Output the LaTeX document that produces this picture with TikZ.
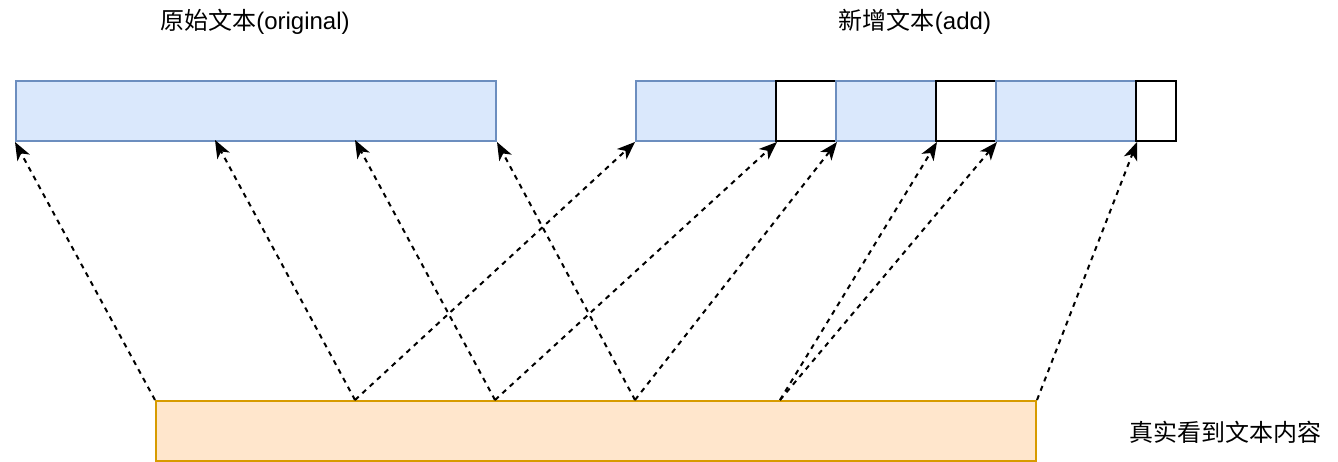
\documentclass[tikz,border=0pt]{standalone}
\usepackage{fontspec}
\setmainfont{Liberation Sans}
\newfontfamily\cjk{Noto Sans CJK SC}
\usetikzlibrary{arrows.meta,positioning}
\definecolor{blueFill}{HTML}{DAE8FC}
\definecolor{blueLine}{HTML}{6C8EBF}
\definecolor{orangeFill}{HTML}{FFE6CC}
\definecolor{orangeLine}{HTML}{D79B00}
\tikzset{
 seg/.style={draw,line width=2pt,inner sep=0,minimum height=60pt,anchor=north west},
 origseg/.style={seg,draw=blueLine,fill=blueFill},
 addseg/.style={seg,draw=blueLine,fill=blueFill},
 gapseg/.style={seg,draw=black,fill=white},
 realseg/.style={seg,draw=orangeLine,fill=orangeFill},
 maparrow/.style={line width=2pt,dash pattern=on 5pt off 5pt,-{Stealth[length=18pt,width=14pt,inset=5pt]}},
 caption/.style={font=\fontsize{24}{28}\selectfont,inner sep=0}
}
\begin{document}
\begin{tikzpicture}[x=1pt,y=-1pt]
\path[use as bounding box] (0,0) rectangle (1338,462);
\node[caption] (origlabel) at (255,22) {{\cjk 原始文本}(original)};
\node[caption] (addlabel) at (915,22) {{\cjk 新增文本}(add)};
\node[caption] (reallabel) at (1225,432) {\cjk 真实看到文本内容};
% original text
\node[origseg,minimum width=480pt] (orig) at (15,80) {};
% added text
\node[addseg,minimum width=140pt] (a1) at (635,80) {};
\node[gapseg,minimum width=60pt] (b1) at (775,80) {};
\node[addseg,minimum width=100pt] (a2) at (835,80) {};
\node[gapseg,minimum width=60pt] (b2) at (935,80) {};
\node[addseg,minimum width=140pt] (a3) at (995,80) {};
\node[gapseg,minimum width=40pt] (b3) at (1135,80) {};
% what is really seen
\node[realseg,minimum width=880pt] (real) at (155,400) {};
\coordinate (o2) at (215,140);
\coordinate (o3) at (355,140);
\coordinate (s2) at (355,400);
\coordinate (s3) at (495,400);
\coordinate (s4) at (635,400);
\coordinate (s5) at (780,400);
\draw[maparrow] (real.north west) -- (orig.south west);
\draw[maparrow] (s2) -- (o2);
\draw[maparrow] (s2) -- (a1.south west);
\draw[maparrow] (s3) -- (o3);
\draw[maparrow] (s3) -- (a1.south east);
\draw[maparrow] (s4) -- (orig.south east);
\draw[maparrow] (s4) -- (b1.south east);
\draw[maparrow] (s5) -- (a2.south east);
\draw[maparrow] (s5) -- (b2.south east);
\draw[maparrow] (real.north east) -- (a3.south east);
\end{tikzpicture}
\end{document}
